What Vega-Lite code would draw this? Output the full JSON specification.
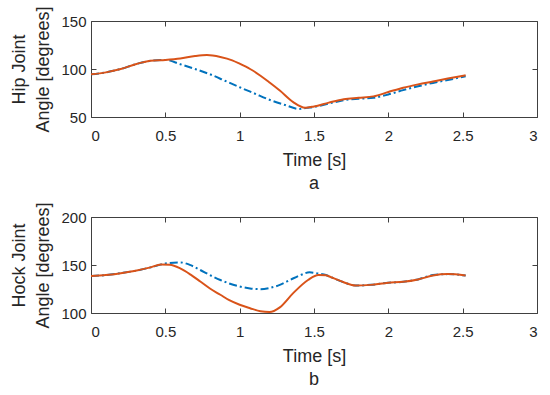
{
  "$schema": "https://vega.github.io/schema/vega-lite/v6.json",
  "padding": {"left": 10, "top": 5, "right": 5, "bottom": 5},
  "background": "white",
  "datasets": {
    "hip": [
      {"t": 0, "angle": 94.5, "series": "measured"},
      {"t": 0.1, "angle": 96.5, "series": "measured"},
      {"t": 0.2, "angle": 100, "series": "measured"},
      {"t": 0.3, "angle": 105, "series": "measured"},
      {"t": 0.4, "angle": 108.5, "series": "measured"},
      {"t": 0.5, "angle": 109.5, "series": "measured"},
      {"t": 0.6, "angle": 105, "series": "measured"},
      {"t": 0.7, "angle": 100, "series": "measured"},
      {"t": 0.8, "angle": 94.5, "series": "measured"},
      {"t": 0.9, "angle": 87.8, "series": "measured"},
      {"t": 1.0, "angle": 81, "series": "measured"},
      {"t": 1.1, "angle": 74.5, "series": "measured"},
      {"t": 1.2, "angle": 68, "series": "measured"},
      {"t": 1.3, "angle": 62.8, "series": "measured"},
      {"t": 1.4, "angle": 58.4, "series": "measured"},
      {"t": 1.45, "angle": 59.5, "series": "measured"},
      {"t": 1.5, "angle": 60.5, "series": "measured"},
      {"t": 1.6, "angle": 64, "series": "measured"},
      {"t": 1.7, "angle": 67.5, "series": "measured"},
      {"t": 1.8, "angle": 69, "series": "measured"},
      {"t": 1.9, "angle": 70, "series": "measured"},
      {"t": 2.0, "angle": 73.5, "series": "measured"},
      {"t": 2.1, "angle": 78, "series": "measured"},
      {"t": 2.2, "angle": 82, "series": "measured"},
      {"t": 2.3, "angle": 85.5, "series": "measured"},
      {"t": 2.4, "angle": 88.5, "series": "measured"},
      {"t": 2.52, "angle": 92.5, "series": "measured"},
      {"t": 0, "angle": 94.5, "series": "model"},
      {"t": 0.1, "angle": 96.5, "series": "model"},
      {"t": 0.2, "angle": 100, "series": "model"},
      {"t": 0.3, "angle": 105, "series": "model"},
      {"t": 0.4, "angle": 108.5, "series": "model"},
      {"t": 0.5, "angle": 109.5, "series": "model"},
      {"t": 0.6, "angle": 111, "series": "model"},
      {"t": 0.7, "angle": 113.5, "series": "model"},
      {"t": 0.78, "angle": 114.5, "series": "model"},
      {"t": 0.87, "angle": 112.5, "series": "model"},
      {"t": 0.95, "angle": 109, "series": "model"},
      {"t": 1.0, "angle": 105.5, "series": "model"},
      {"t": 1.07, "angle": 100, "series": "model"},
      {"t": 1.14, "angle": 93, "series": "model"},
      {"t": 1.2, "angle": 86, "series": "model"},
      {"t": 1.27, "angle": 77.5, "series": "model"},
      {"t": 1.36, "angle": 65.5, "series": "model"},
      {"t": 1.44, "angle": 59.6, "series": "model"},
      {"t": 1.5, "angle": 61, "series": "model"},
      {"t": 1.6, "angle": 65, "series": "model"},
      {"t": 1.7, "angle": 68.5, "series": "model"},
      {"t": 1.8, "angle": 70, "series": "model"},
      {"t": 1.9, "angle": 71.5, "series": "model"},
      {"t": 2.0, "angle": 76, "series": "model"},
      {"t": 2.1, "angle": 80.5, "series": "model"},
      {"t": 2.2, "angle": 84, "series": "model"},
      {"t": 2.3, "angle": 87, "series": "model"},
      {"t": 2.4, "angle": 90, "series": "model"},
      {"t": 2.52, "angle": 93.5, "series": "model"}
    ],
    "hock": [
      {"t": 0, "angle": 138.5, "series": "measured"},
      {"t": 0.1, "angle": 139.5, "series": "measured"},
      {"t": 0.2, "angle": 141.5, "series": "measured"},
      {"t": 0.3, "angle": 144, "series": "measured"},
      {"t": 0.4, "angle": 147.5, "series": "measured"},
      {"t": 0.5, "angle": 151.5, "series": "measured"},
      {"t": 0.6, "angle": 152.7, "series": "measured"},
      {"t": 0.67, "angle": 149.8, "series": "measured"},
      {"t": 0.735, "angle": 144.8, "series": "measured"},
      {"t": 0.8, "angle": 139.5, "series": "measured"},
      {"t": 0.87, "angle": 134.4, "series": "measured"},
      {"t": 0.93, "angle": 130.8, "series": "measured"},
      {"t": 1.0, "angle": 127.6, "series": "measured"},
      {"t": 1.07, "angle": 125.6, "series": "measured"},
      {"t": 1.14, "angle": 124.8, "series": "measured"},
      {"t": 1.2, "angle": 126, "series": "measured"},
      {"t": 1.27, "angle": 129.3, "series": "measured"},
      {"t": 1.34, "angle": 134.5, "series": "measured"},
      {"t": 1.41, "angle": 139.6, "series": "measured"},
      {"t": 1.47, "angle": 142.4, "series": "measured"},
      {"t": 1.53, "angle": 141, "series": "measured"},
      {"t": 1.58, "angle": 139.5, "series": "measured"},
      {"t": 1.62, "angle": 137, "series": "measured"},
      {"t": 1.7, "angle": 132, "series": "measured"},
      {"t": 1.78, "angle": 128.6, "series": "measured"},
      {"t": 1.88, "angle": 129.3, "series": "measured"},
      {"t": 2.0, "angle": 131.5, "series": "measured"},
      {"t": 2.1, "angle": 132.5, "series": "measured"},
      {"t": 2.2, "angle": 135, "series": "measured"},
      {"t": 2.3, "angle": 139.5, "series": "measured"},
      {"t": 2.4, "angle": 140.5, "series": "measured"},
      {"t": 2.52, "angle": 139, "series": "measured"},
      {"t": 0, "angle": 138.5, "series": "model"},
      {"t": 0.1, "angle": 139.5, "series": "model"},
      {"t": 0.2, "angle": 141.5, "series": "model"},
      {"t": 0.3, "angle": 144, "series": "model"},
      {"t": 0.4, "angle": 147.5, "series": "model"},
      {"t": 0.47, "angle": 150.5, "series": "model"},
      {"t": 0.53, "angle": 150.2, "series": "model"},
      {"t": 0.6, "angle": 146.5, "series": "model"},
      {"t": 0.67, "angle": 140, "series": "model"},
      {"t": 0.735, "angle": 132.8, "series": "model"},
      {"t": 0.8, "angle": 125.5, "series": "model"},
      {"t": 0.87, "angle": 119, "series": "model"},
      {"t": 0.93, "angle": 113.3, "series": "model"},
      {"t": 1.0, "angle": 108.6, "series": "model"},
      {"t": 1.07, "angle": 105, "series": "model"},
      {"t": 1.14, "angle": 101.8, "series": "model"},
      {"t": 1.2, "angle": 101, "series": "model"},
      {"t": 1.27, "angle": 105.9, "series": "model"},
      {"t": 1.36, "angle": 120.7, "series": "model"},
      {"t": 1.46, "angle": 134.4, "series": "model"},
      {"t": 1.53, "angle": 139.6, "series": "model"},
      {"t": 1.58, "angle": 139.2, "series": "model"},
      {"t": 1.62, "angle": 137, "series": "model"},
      {"t": 1.7, "angle": 132, "series": "model"},
      {"t": 1.78, "angle": 128.6, "series": "model"},
      {"t": 1.88, "angle": 129.3, "series": "model"},
      {"t": 2.0, "angle": 131.5, "series": "model"},
      {"t": 2.1, "angle": 132.5, "series": "model"},
      {"t": 2.2, "angle": 135, "series": "model"},
      {"t": 2.3, "angle": 139, "series": "model"},
      {"t": 2.4, "angle": 140.5, "series": "model"},
      {"t": 2.52, "angle": 139, "series": "model"}
    ]
  },
  "vconcat": [
    {
      "width": 446,
      "height": 96,
      "data": {"name": "hip"},
      "title": {"text": "a", "orient": "bottom", "fontSize": 18, "fontWeight": "normal", "color": "#262626", "offset": 6},
      "layer": [
        {
          "transform": [{"filter": "datum.series === 'measured'"}],
          "mark": {"type": "line", "interpolate": "monotone", "color": "#0072BD", "strokeWidth": 2, "strokeDash": [8, 3, 2, 3]},
          "encoding": {
            "x": {"field": "t", "type": "quantitative", "scale": {"domain": [0, 3], "nice": false},
                  "axis": {"orient": "bottom", "values": [0, 0.5, 1, 1.5, 2, 2.5, 3], "title": "Time [s]", "format": "~g"}},
            "y": {"field": "angle", "type": "quantitative", "scale": {"domain": [50, 150], "nice": false, "zero": false},
                  "axis": {"orient": "left", "values": [50, 100, 150], "title": ["Hip Joint", "Angle [degrees]"]}}
          }
        },
        {
          "transform": [{"filter": "datum.series === 'model'"}],
          "mark": {"type": "line", "interpolate": "monotone", "color": "#D95319", "strokeWidth": 2},
          "encoding": {
            "x": {"field": "t", "type": "quantitative", "axis": null},
            "y": {"field": "angle", "type": "quantitative", "axis": null}
          }
        },
        {
          "transform": [{"filter": "datum.series === 'model'"}],
          "mark": {"type": "line", "opacity": 0},
          "encoding": {
            "x": {"field": "t", "type": "quantitative",
                  "axis": {"orient": "top", "values": [0, 0.5, 1, 1.5, 2, 2.5, 3], "labels": false, "title": null}},
            "y": {"field": "angle", "type": "quantitative",
                  "axis": {"orient": "right", "values": [50, 100, 150], "labels": false, "title": null}}
          }
        }
      ],
      "resolve": {"axis": {"x": "independent", "y": "independent"}}
    },
    {
      "width": 446,
      "height": 96,
      "data": {"name": "hock"},
      "title": {"text": "b", "orient": "bottom", "fontSize": 18, "fontWeight": "normal", "color": "#262626", "offset": 6},
      "layer": [
        {
          "transform": [{"filter": "datum.series === 'measured'"}],
          "mark": {"type": "line", "interpolate": "monotone", "color": "#0072BD", "strokeWidth": 2, "strokeDash": [8, 3, 2, 3]},
          "encoding": {
            "x": {"field": "t", "type": "quantitative", "scale": {"domain": [0, 3], "nice": false},
                  "axis": {"orient": "bottom", "values": [0, 0.5, 1, 1.5, 2, 2.5, 3], "title": "Time [s]", "format": "~g"}},
            "y": {"field": "angle", "type": "quantitative", "scale": {"domain": [100, 200], "nice": false, "zero": false},
                  "axis": {"orient": "left", "values": [100, 150, 200], "title": ["Hock Joint", "Angle [degrees]"]}}
          }
        },
        {
          "transform": [{"filter": "datum.series === 'model'"}],
          "mark": {"type": "line", "interpolate": "monotone", "color": "#D95319", "strokeWidth": 2},
          "encoding": {
            "x": {"field": "t", "type": "quantitative", "axis": null},
            "y": {"field": "angle", "type": "quantitative", "axis": null}
          }
        },
        {
          "transform": [{"filter": "datum.series === 'model'"}],
          "mark": {"type": "line", "opacity": 0},
          "encoding": {
            "x": {"field": "t", "type": "quantitative",
                  "axis": {"orient": "top", "values": [0, 0.5, 1, 1.5, 2, 2.5, 3], "labels": false, "title": null}},
            "y": {"field": "angle", "type": "quantitative",
                  "axis": {"orient": "right", "values": [100, 150, 200], "labels": false, "title": null}}
          }
        }
      ],
      "resolve": {"axis": {"x": "independent", "y": "independent"}}
    }
  ],
  "bounds": "flush",
  "spacing": 100,
  "config": {
    "font": "Liberation Sans",
    "view": {"stroke": "#404040", "strokeWidth": 1},
    "axis": {
      "grid": false,
      "domain": false,
      "tickSize": -5,
      "tickColor": "#404040",
      "labelFontSize": 15,
      "labelColor": "#262626",
      "labelPadding": 10,
      "titleFontSize": 18,
      "titleFontWeight": "normal",
      "titleColor": "#262626",
      "titleLineHeight": 24
    },
    "axisBottom": {"titlePadding": 8, "labelPadding": 16},
    "axisLeft": {"titlePadding": 8}
  }
}
